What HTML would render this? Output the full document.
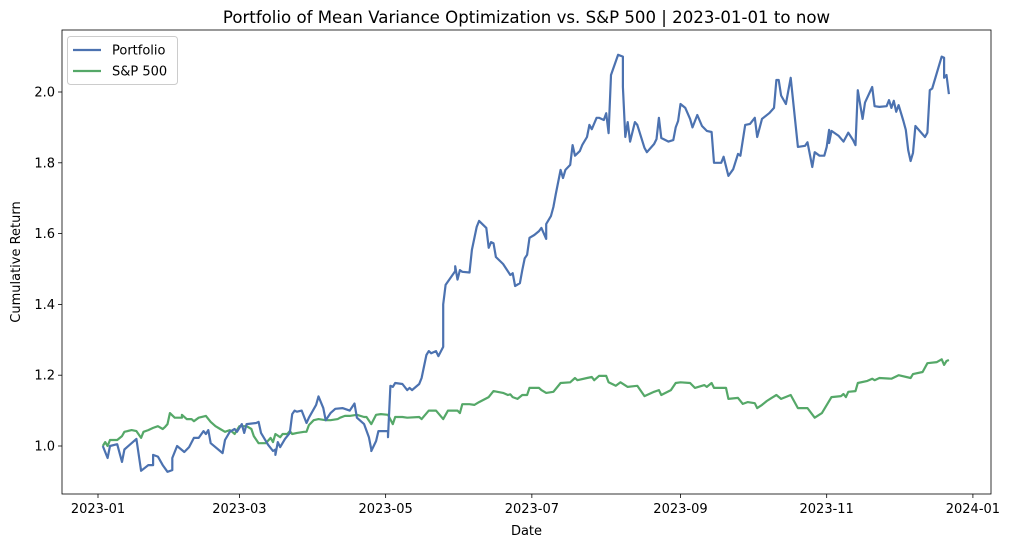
<!DOCTYPE html>
<html><head><meta charset="utf-8"><style>
html,body{margin:0;padding:0;background:#fff;}
svg{display:block;font-family:"DejaVu Sans","Liberation Sans",sans-serif;}
</style></head><body>
<svg id="chart" width="1011" height="547" viewBox="0 0 1011 547" xmlns="http://www.w3.org/2000/svg"></svg>
<script>
const pDays=[2,4,5,8,10,11,16,18,21,23,23,25,27,29,31,31,33,36,38,40,42,44,45,46,47,52,53,55,57,58,60,61,62,66,67,68,71,73,74,74,75,76,78,80,81,82,83,85,87,88,91,92,94,95,97,99,102,105,107,108,111,113,114,114,116,117,121,121,122,123,124,127,129,130,131,134,135,137,138,139,141,142,144,144,145,149,149,150,151,152,155,156,158,159,162,163,164,165,166,169,172,173,174,176,177,178,179,180,182,184,185,187,187,189,190,191,193,194,195,197,198,199,201,202,204,205,206,208,209,211,212,213,214,217,219,219,220,221,222,224,225,228,229,232,233,234,235,238,240,241,242,243,245,247,248,250,252,254,256,257,260,261,263,265,267,268,270,272,274,275,277,280,282,283,284,285,287,289,292,295,296,298,299,301,303,304,305,305,306,309,311,313,315,316,317,319,320,323,324,326,329,330,331,332,333,334,336,337,338,339,340,341,345,346,347,348,352,353,353,354,355];
const pVals=[1.0,0.966,1.0,1.005,0.955,0.99,1.02,0.93,0.946,0.946,0.975,0.97,0.946,0.927,0.932,0.966,1.0,0.983,0.997,1.023,1.023,1.042,1.034,1.045,1.008,0.98,1.017,1.04,1.048,1.04,1.062,1.037,1.062,1.065,1.068,1.037,1.003,0.986,0.99,0.975,1.011,0.997,1.02,1.037,1.09,1.1,1.097,1.1,1.065,1.08,1.116,1.14,1.107,1.073,1.093,1.105,1.107,1.1,1.12,1.08,1.062,1.025,0.99,0.986,1.014,1.042,1.042,1.025,1.17,1.167,1.178,1.175,1.158,1.164,1.158,1.175,1.192,1.257,1.268,1.262,1.268,1.254,1.28,1.4,1.455,1.494,1.508,1.47,1.497,1.492,1.49,1.554,1.619,1.636,1.616,1.56,1.576,1.573,1.534,1.514,1.483,1.488,1.452,1.46,1.497,1.53,1.54,1.588,1.596,1.607,1.616,1.585,1.627,1.65,1.675,1.712,1.78,1.757,1.78,1.794,1.85,1.82,1.833,1.85,1.873,1.907,1.895,1.927,1.927,1.921,1.94,1.884,2.048,2.105,2.1,2.014,1.873,1.915,1.86,1.915,1.907,1.842,1.83,1.853,1.867,1.927,1.87,1.86,1.864,1.9,1.918,1.966,1.955,1.924,1.9,1.935,1.904,1.89,1.887,1.8,1.8,1.817,1.763,1.782,1.825,1.82,1.907,1.91,1.927,1.873,1.924,1.94,1.955,2.034,2.034,1.99,1.966,2.04,1.845,1.848,1.858,1.788,1.83,1.82,1.82,1.845,1.893,1.856,1.89,1.876,1.86,1.885,1.864,1.85,2.005,1.924,1.97,2.014,1.96,1.958,1.96,1.977,1.955,1.975,1.944,1.963,1.918,1.893,1.836,1.805,1.828,1.904,1.873,1.885,2.005,2.01,2.1,2.097,2.04,2.048,1.994];
const sDays=[2,3,4,5,8,10,11,14,16,18,19,21,23,25,27,28,29,30,32,35,35,37,39,40,42,45,45,47,49,51,53,55,56,57,59,62,64,65,67,70,72,73,74,76,77,79,80,81,83,86,87,88,90,92,95,97,100,101,103,105,108,111,112,114,116,118,121,123,124,127,129,134,135,138,141,144,146,150,151,152,155,157,159,163,165,169,171,172,173,175,177,179,180,184,185,187,190,193,197,199,200,204,206,207,209,212,213,216,218,221,225,228,232,234,235,239,241,243,247,249,253,254,256,257,260,262,263,267,269,271,274,275,277,279,281,283,285,289,292,296,299,302,306,310,311,312,313,316,317,321,323,324,326,331,334,339,340,344,346,350,352,353,354,355];
const sVals=[1.0,1.011,1.0,1.017,1.017,1.028,1.04,1.045,1.042,1.023,1.04,1.045,1.051,1.056,1.048,1.054,1.062,1.093,1.08,1.08,1.088,1.076,1.076,1.07,1.08,1.085,1.085,1.068,1.056,1.048,1.04,1.045,1.04,1.034,1.056,1.056,1.048,1.028,1.008,1.008,1.023,1.011,1.034,1.025,1.034,1.034,1.042,1.034,1.037,1.04,1.04,1.059,1.073,1.076,1.073,1.073,1.076,1.08,1.085,1.085,1.088,1.082,1.082,1.062,1.088,1.09,1.088,1.062,1.082,1.082,1.08,1.082,1.076,1.1,1.1,1.076,1.1,1.1,1.093,1.118,1.118,1.116,1.124,1.138,1.155,1.15,1.144,1.146,1.138,1.133,1.144,1.144,1.164,1.164,1.158,1.15,1.153,1.178,1.18,1.192,1.186,1.192,1.195,1.186,1.198,1.198,1.18,1.17,1.18,1.167,1.17,1.141,1.153,1.158,1.144,1.158,1.178,1.18,1.178,1.164,1.172,1.167,1.178,1.164,1.164,1.164,1.133,1.136,1.119,1.124,1.121,1.107,1.116,1.127,1.136,1.144,1.133,1.144,1.107,1.107,1.08,1.093,1.138,1.141,1.147,1.138,1.153,1.155,1.178,1.184,1.19,1.186,1.192,1.19,1.2,1.192,1.203,1.209,1.234,1.237,1.245,1.229,1.24,1.243];
const yTicks=[1.0,1.2,1.4,1.6,1.8,2.0];
const xTickDays=[0,59,120,181,243,304,365];
const xTickLabels=["2023-01","2023-03","2023-05","2023-07","2023-09","2023-11","2024-01"];

const L=62,R=991,T=30,B=494;
const xs=d=>98+d*2.397;
const ys=v=>446-(v-1)*354;
const svg=document.getElementById('chart');
const NS='http://www.w3.org/2000/svg';
function mk(tag,attrs,parent){const e=document.createElementNS(NS,tag);for(const k in attrs)e.setAttribute(k,attrs[k]);(parent||svg).appendChild(e);return e;}

const title=mk('text',{x:(L+R)/2,y:23,'text-anchor':'middle','font-size':16.6,fill:'#000'});
title.textContent='Portfolio of Mean Variance Optimization vs. S&P 500 | 2023-01-01 to now';



yTicks.forEach(v=>{
  const y=ys(v);
  const t=mk('line',{x1:L-4,x2:L,y1:y,y2:y,stroke:'#000','stroke-width':0.8});
  
  
  const lb=mk('text',{x:L-7,y:y+4.5,'text-anchor':'end','font-size':13,fill:'#000'});
  lb.textContent=v.toFixed(1);
  
  
});
xTickDays.forEach((d,i)=>{
  const x=xs(d);
  const t=mk('line',{x1:x,x2:x,y1:B,y2:B+4,stroke:'#000','stroke-width':0.8});
  
  
  const lb=mk('text',{x:x,y:B+19,'text-anchor':'middle','font-size':13,fill:'#000'});
  lb.textContent=xTickLabels[i];
  
  
});
const xl=mk('text',{x:(L+R)/2,y:535,'text-anchor':'middle','font-size':13,fill:'#000'});
xl.textContent='Date';


const yl=mk('text',{x:0,y:0,'text-anchor':'middle','font-size':13,fill:'#000',transform:`translate(20,${(T+B)/2}) rotate(-90)`});
yl.textContent='Cumulative Return';



function line(days,vals,color,name){
  const pts=days.map((d,i)=>xs(d).toFixed(1)+','+ys(vals[i]).toFixed(1)).join(' ');
  const p=mk('polyline',{points:pts,fill:'none',stroke:color,'stroke-width':2.2,'stroke-linejoin':'round'});
  
  
}
line(sDays,sVals,'#55a868','sp500-line');
line(pDays,pVals,'#4c72b0','portfolio-line');

const frame=mk('rect',{x:L,y:T,width:R-L,height:B-T,fill:'none',stroke:'#000','stroke-width':0.8});



const lg=mk('g',{});


mk('rect',{x:67.5,y:36.5,width:110,height:48,rx:3,fill:'#fff','fill-opacity':0.8,stroke:'#ccc'},lg);
[['Portfolio','#4c72b0'],['S&P 500','#55a868']].forEach((e,i)=>{
  const y=50+i*21;
  const g=mk('g',{},lg);
  
  
  mk('line',{x1:73,x2:101,y1:y,y2:y,stroke:e[1],'stroke-width':2.2},g);
  const t=mk('text',{x:112,y:y+4.5,'font-size':13,fill:'#000'},g);
  t.textContent=e[0];
});
</script>
</body></html>
